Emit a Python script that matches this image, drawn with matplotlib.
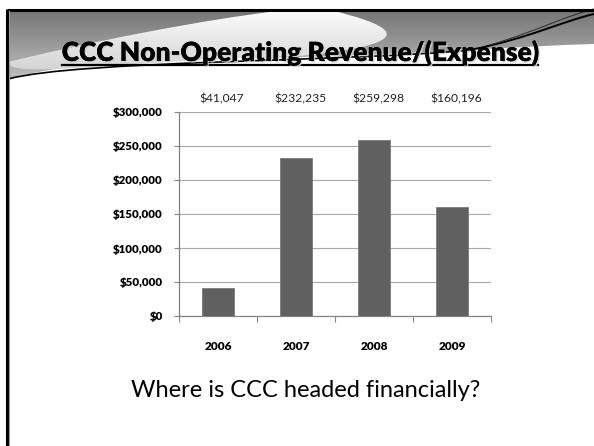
import numpy as np
import matplotlib
matplotlib.use("Agg")
import matplotlib.pyplot as plt
from matplotlib.path import Path
from matplotlib.patches import PathPatch
import matplotlib.patheffects as pe

# chart data
years = ["2006", "2007", "2008", "2009"]
revenue = [41047, 232235, 259298, 160196]
y_ticks = [0, 50000, 100000, 150000, 200000, 250000, 300000]

title = "CCC Non-Operating Revenue/(Expense)"
question = "Where is CCC headed financially?"

plt.rcParams['font.family'] = ['Lato', 'DejaVu Sans']

W, H = 594, 446
fig = plt.figure(figsize=(W / 100, H / 100), dpi=100)
fig.patch.set_facecolor("white")

# slide background drawn in pixel coordinates
bg = fig.add_axes([0, 0, 1, 1], zorder=0)
bg.set_xlim(0, W)
bg.set_ylim(H, 0)
bg.axis("off")


def bezier(points):
    codes = [Path.MOVETO] + [Path.CURVE4] * (len(points) - 1)
    return Path(points, codes)


# gray header band
hdr_pts = [(8, 10), (594, 10), (594, 44),
           (520, 46), (420, 54), (300, 57),
           (160, 59), (60, 62), (8, 80), (8, 10)]
hdr_codes = [Path.MOVETO, Path.LINETO, Path.LINETO,
             Path.CURVE4, Path.CURVE4, Path.CURVE4,
             Path.CURVE4, Path.CURVE4, Path.CURVE4, Path.CLOSEPOLY]
hdr = PathPatch(Path(hdr_pts, hdr_codes), facecolor="none", edgecolor="none")
bg.add_patch(hdr)
grad = np.linspace(0.45, 0.76, 256).reshape(-1, 1)
im = bg.imshow(grad, cmap="gray", vmin=0, vmax=1, aspect="auto",
               extent=(0, W, 82, 8), interpolation="bicubic")
im.set_clip_path(hdr)

# light swoosh across the header
sw_pts = [(8, 62), (90, 42), (200, 20), (285, 10),
          (330, 10), (380, 22), (440, 42),
          (300, 56), (120, 60), (8, 80), (8, 62)]
sw_codes = [Path.MOVETO, Path.CURVE4, Path.CURVE4, Path.CURVE4,
            Path.LINETO, Path.CURVE4, Path.CURVE4,
            Path.CURVE4, Path.CURVE4, Path.CURVE4, Path.CLOSEPOLY]
sw = PathPatch(Path(sw_pts, sw_codes), facecolor="none", edgecolor="none")
bg.add_patch(sw)
sw_grad = np.linspace(0.99, 0.80, 256).reshape(-1, 1)
im2 = bg.imshow(sw_grad, cmap="gray", vmin=0, vmax=1, aspect="auto",
                extent=(0, W, 82, 8), interpolation="bicubic")
im2.set_clip_path(sw)

# dark curve under the header
bg.add_patch(PathPatch(bezier([(8, 79), (80, 60), (350, 62), (470, 50)]),
                       facecolor="none", edgecolor="black", lw=1.2))
bg.add_patch(PathPatch(bezier([(470, 50), (530, 38), (560, 22), (594, 14)]),
                       facecolor="none", edgecolor="black", lw=1.4))
bg.add_patch(PathPatch(bezier([(490, 45), (540, 30), (565, 16), (594, 9)]),
                       facecolor="none", edgecolor="#333333", lw=0.8))

# slide frame
bg.plot([7, 594], [9.5, 9.5], color="black", lw=2.2, solid_capstyle="butt")
bg.plot([7, 7], [9, H], color="black", lw=2.2, solid_capstyle="butt")
bg.plot([9.2, 9.2], [11, H], color="#9a9a9a", lw=0.8)

# title with underline
t = bg.text(300, 61, title, ha="center", va="baseline", fontsize=19,
            fontweight="heavy", color="black",
            path_effects=[pe.withSimplePatchShadow(offset=(1, -1),
                                                   shadow_rgbFace="#cfcfcf",
                                                   alpha=0.9),
                          pe.Normal()])
fig.canvas.draw()
bb = t.get_window_extent()
bg.plot([bb.x0, bb.x1], [64.5, 64.5], color="black", lw=1.6)

bg.text(306, 397, question, ha="center", va="baseline", fontsize=17,
        color="black")

# bar chart
ax = fig.add_axes([179 / W, 1 - 316 / H, 312 / W, 204 / H], zorder=1)
ax.set_facecolor("none")
x = np.arange(len(years))
ax.bar(x, revenue, width=0.4, color="#606060", edgecolor="#7a7a7a",
       linewidth=0.6, zorder=3)

ax.set_xlim(-0.5, len(years) - 0.5)
ax.set_ylim(0, 300000)
ax.set_yticks(y_ticks)
ax.set_yticklabels(["${:,}".format(v) for v in y_ticks])
ax.yaxis.grid(True, color="#a8a8a8", lw=0.8, zorder=0)
ax.set_axisbelow(True)

ax.set_xticks(x)
ax.set_xticklabels(years)
ax.set_xticks(np.arange(-0.5, len(years)), minor=True)
ax.tick_params(axis="x", which="major", length=0, pad=18, labelsize=8.5)
ax.tick_params(axis="x", which="minor", length=4, color="#868686", width=0.8)
ax.tick_params(axis="y", length=3.5, color="#868686", width=0.8, pad=8,
               labelsize=8.3)
for lab in ax.get_xticklabels() + ax.get_yticklabels():
    lab.set_fontweight("heavy")

for s in ["top", "right"]:
    ax.spines[s].set_visible(False)
ax.spines["left"].set_color("#808080")
ax.spines["bottom"].set_color("#868686")
ax.spines["left"].set_linewidth(0.9)
ax.spines["bottom"].set_linewidth(0.9)

# value labels in a row above the plot
for i, v in enumerate(revenue):
    ax.annotate("${:,}".format(v), xy=(i, 300000), xytext=(3, 9.4),
                textcoords="offset points", ha="center", va="center",
                fontsize=8.7, color="#222222", annotation_clip=False)

fig.savefig("out.png", dpi=100)
